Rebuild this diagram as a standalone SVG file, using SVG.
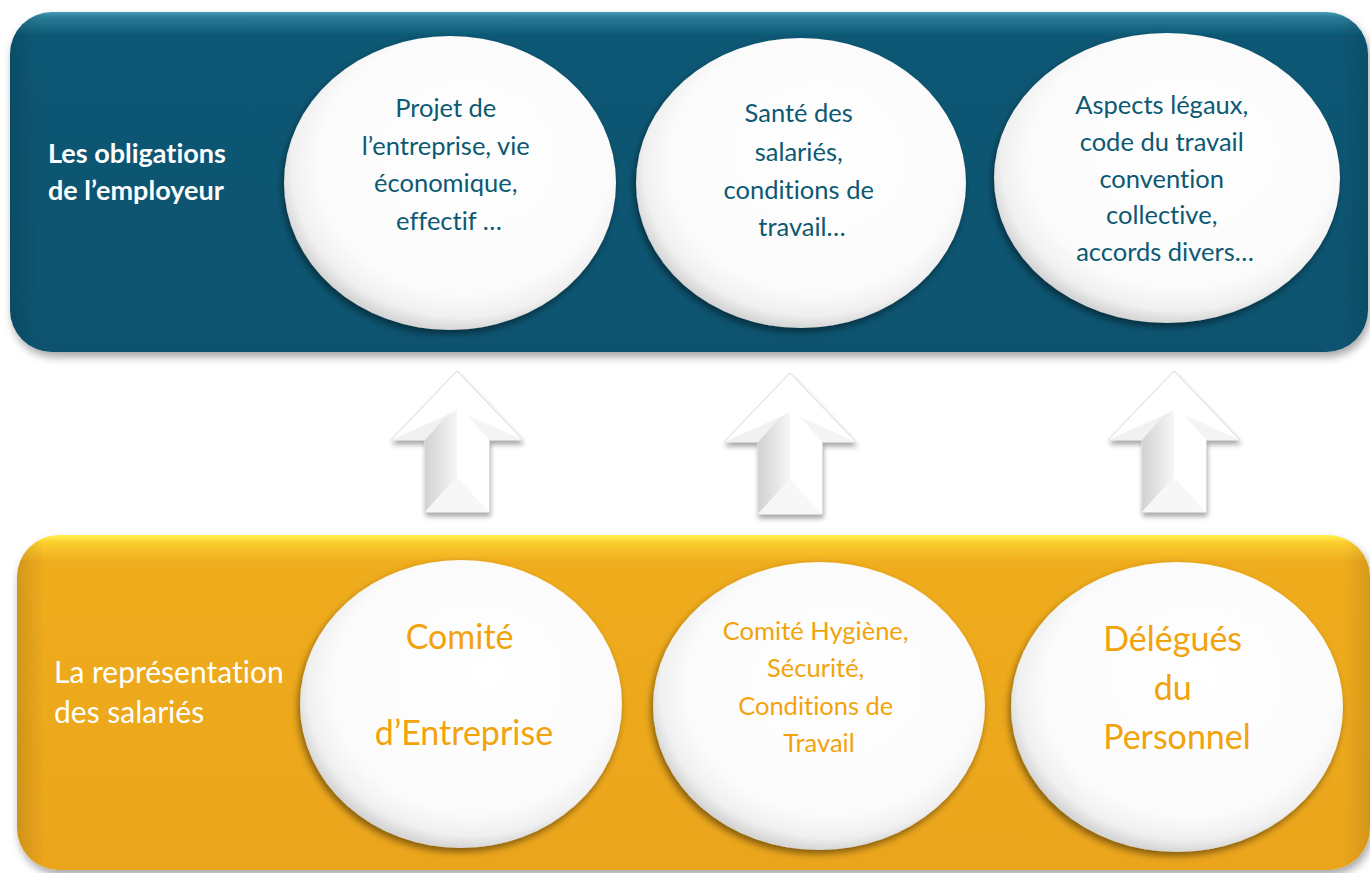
<svg xmlns="http://www.w3.org/2000/svg" width="1370" height="873" viewBox="0 0 1370 873">
  <defs>
    <style>
      text { font-variant-ligatures: none; }
      .lbl { font-family: Lato, "Open Sans", "Liberation Sans", sans-serif; text-anchor: middle; }
      .teal { fill: #0c5973; font-size: 25.5px; }
      .orange { fill: #f2a30c; }
      .big { font-size: 34px; }
      .mid { font-size: 25.5px; }
      .side { fill: #ffffff; text-anchor: start; font-family: Lato, "Open Sans", "Liberation Sans", sans-serif; }
      .bubble { fill: url(#bubbleFill); }
      .arrow-outline { fill: #ffffff; stroke: #d9d9d9; stroke-width: 1; }
    </style>

    <!-- panel fills -->
    <linearGradient id="tealPanel" x1="0" y1="0" x2="0" y2="1">
      <stop offset="0" stop-color="#4a9bb8"/>
      <stop offset="0.015" stop-color="#2a7b97"/>
      <stop offset="0.07" stop-color="#0c5874"/>
      <stop offset="1" stop-color="#0a5370"/>
    </linearGradient>
    <linearGradient id="amberPanel" x1="0" y1="0" x2="0" y2="1">
      <stop offset="0" stop-color="#fff54e"/>
      <stop offset="0.02" stop-color="#fdd030"/>
      <stop offset="0.08" stop-color="#efac1f"/>
      <stop offset="1" stop-color="#eba51b"/>
    </linearGradient>
    <linearGradient id="panelSideShade" x1="0" y1="0" x2="1" y2="0">
      <stop offset="0" stop-color="#000" stop-opacity="0.12"/>
      <stop offset="0.02" stop-color="#000" stop-opacity="0"/>
      <stop offset="0.98" stop-color="#000" stop-opacity="0"/>
      <stop offset="1" stop-color="#000" stop-opacity="0.1"/>
    </linearGradient>

    <!-- bubble fill: bright centre, greyed rim -->
    <radialGradient id="bubbleFill" cx="0.53" cy="0.45" r="0.55" fx="0.58" fy="0.38">
      <stop offset="0" stop-color="#ffffff"/>
      <stop offset="0.8" stop-color="#fbfbfb"/>
      <stop offset="0.93" stop-color="#f0f0f0"/>
      <stop offset="1" stop-color="#d6d6d6"/>
    </radialGradient>

    <!-- arrow bevel shading -->
    <linearGradient id="shaftLeft" x1="0" y1="0" x2="1" y2="0">
      <stop offset="0" stop-color="#d2d2d2"/>
      <stop offset="1" stop-color="#f6f6f6"/>
    </linearGradient>

    <filter id="panelShadow" x="-5%" y="-10%" width="110%" height="125%">
      <feDropShadow dx="2" dy="5" stdDeviation="4" flood-color="#000" flood-opacity="0.35"/>
    </filter>
    <filter id="bubbleShadow" x="-10%" y="-10%" width="120%" height="125%">
      <feDropShadow dx="-2" dy="4" stdDeviation="3.5" flood-color="#000" flood-opacity="0.45"/>
    </filter>
    <filter id="arrowShadow" x="-20%" y="-20%" width="140%" height="140%">
      <feDropShadow dx="1" dy="4" stdDeviation="2.5" flood-color="#000" flood-opacity="0.35"/>
    </filter>

    <!-- up arrow, tip at origin -->
    <g id="upArrow">
      <polygon class="arrow-outline" points="0,0 66,69 32,69 32,141 -32,141 -32,69 -66,69" filter="url(#arrowShadow)"/>
      <polygon points="-66,69 -32,69 -10,44" fill="#f1f1f1"/>
      <polygon points="66,69 32,69 10,44" fill="#f4f4f4"/>
      <polygon points="-32,69 -10,44 0,39 0,106 -32,141" fill="url(#shaftLeft)"/>
      <polygon points="-32,141 0,106 32,141" fill="#f7f7f7"/>
      <polygon points="0,39 10,44 32,69 32,141 0,106" fill="#ffffff"/>
    </g>
  </defs>

  <!-- employer obligations panel -->
  <g id="employer-panel">
    <rect x="10" y="12" width="1358" height="340" rx="42" fill="url(#tealPanel)" filter="url(#panelShadow)"/>
    <rect x="10" y="12" width="1358" height="340" rx="42" fill="url(#panelSideShade)"/>
    <text class="side" font-weight="bold" font-size="27px">
      <tspan x="48" y="163">Les obligations</tspan>
      <tspan x="48" y="200">de l’employeur</tspan>
    </text>
  </g>

  <g id="node-projet">
    <ellipse class="bubble" cx="450" cy="183" rx="166" ry="147" filter="url(#bubbleShadow)"/>
    <text class="lbl teal">
      <tspan x="449" y="117">Projet de</tspan>
      <tspan x="449" y="155">l’entreprise, vie</tspan>
      <tspan x="449" y="192">économique,</tspan>
      <tspan x="449" y="230">effectif …</tspan>
    </text>
  </g>

  <g id="node-sante">
    <ellipse class="bubble" cx="801" cy="183" rx="165" ry="145" filter="url(#bubbleShadow)"/>
    <text class="lbl teal">
      <tspan x="802" y="122">Santé des</tspan>
      <tspan x="802" y="161">salariés,</tspan>
      <tspan x="802" y="199">conditions de</tspan>
      <tspan x="802" y="236">travail…</tspan>
    </text>
  </g>

  <g id="node-legal">
    <ellipse class="bubble" cx="1167" cy="178" rx="173" ry="145" filter="url(#bubbleShadow)"/>
    <text class="lbl teal">
      <tspan x="1165" y="114">Aspects légaux,</tspan>
      <tspan x="1165" y="151">code du travail</tspan>
      <tspan x="1165" y="188">convention</tspan>
      <tspan x="1165" y="224">collective,</tspan>
      <tspan x="1165" y="261">accords divers…</tspan>
    </text>
  </g>

  <!-- employee representation panel -->
  <g id="representation-panel">
    <rect x="17" y="535" width="1353" height="335" rx="42" fill="url(#amberPanel)" filter="url(#panelShadow)"/>
    <rect x="17" y="535" width="1353" height="335" rx="42" fill="url(#panelSideShade)"/>
    <text class="side" font-size="30px">
      <tspan x="54" y="683">La représentation</tspan>
      <tspan x="54" y="723">des salariés</tspan>
    </text>
  </g>

  <g id="node-ce">
    <ellipse class="bubble" cx="461" cy="704" rx="161" ry="144" filter="url(#bubbleShadow)"/>
    <text class="lbl orange big">
      <tspan x="464" y="649">Comité</tspan>
      <tspan x="464" y="745">d’Entreprise</tspan>
    </text>
  </g>

  <g id="node-chsct">
    <ellipse class="bubble" cx="819" cy="706" rx="166" ry="144" filter="url(#bubbleShadow)"/>
    <text class="lbl orange mid">
      <tspan x="819" y="640">Comité Hygiène,</tspan>
      <tspan x="819" y="677">Sécurité,</tspan>
      <tspan x="819" y="715">Conditions de</tspan>
      <tspan x="819" y="752">Travail</tspan>
    </text>
  </g>

  <g id="node-dp">
    <ellipse class="bubble" cx="1177" cy="707" rx="166" ry="145" filter="url(#bubbleShadow)"/>
    <text class="lbl orange big">
      <tspan x="1177" y="651">Délégués</tspan>
      <tspan x="1177" y="700">du</tspan>
      <tspan x="1177" y="749">Personnel</tspan>
    </text>
  </g>

  <!-- upward connectors between the panels -->
  <g id="connectors">
    <use href="#upArrow" transform="translate(457,371)"/>
    <use href="#upArrow" transform="translate(790,373)"/>
    <use href="#upArrow" transform="translate(1174,371)"/>
  </g>
</svg>
